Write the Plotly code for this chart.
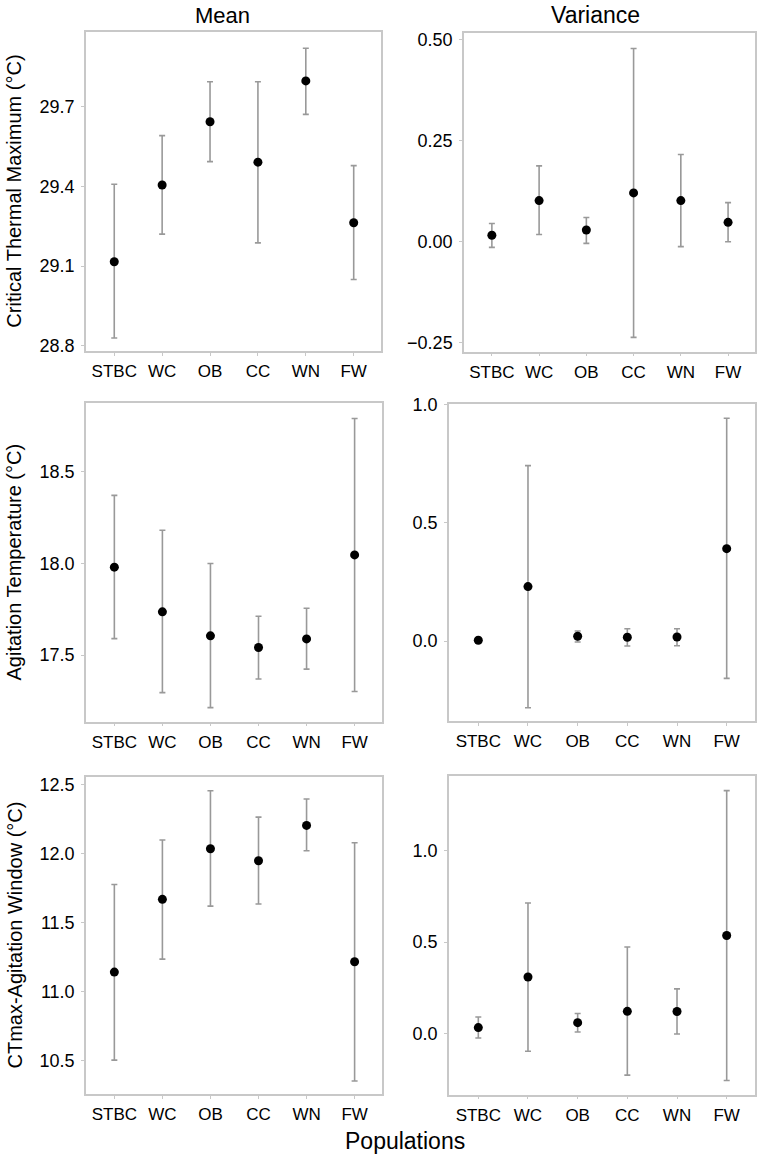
import plotly.graph_objects as go

populations = ["STBC", "WC", "OB", "CC", "WN", "FW"]

# Critical Thermal Maximum - mean
ctmax_mean = [29.116, 29.405, 29.643, 29.491, 29.797, 29.263]
ctmax_mean_lo = [28.829, 29.220, 29.493, 29.187, 29.671, 29.049]
ctmax_mean_hi = [29.408, 29.591, 29.794, 29.794, 29.920, 29.478]
# Critical Thermal Maximum - variance
ctmax_var = [0.016, 0.102, 0.029, 0.121, 0.102, 0.048]
ctmax_var_lo = [-0.014, 0.018, -0.004, -0.237, -0.012, 0.000]
ctmax_var_hi = [0.045, 0.188, 0.060, 0.479, 0.216, 0.097]

# Agitation Temperature - mean
agit_mean = [17.980, 17.736, 17.605, 17.541, 17.588, 18.047]
agit_mean_lo = [17.590, 17.295, 17.213, 17.369, 17.423, 17.301]
agit_mean_hi = [18.372, 18.182, 18.000, 17.712, 17.756, 18.792]
# Agitation Temperature - variance
agit_var = [0.003, 0.230, 0.020, 0.016, 0.017, 0.390]
agit_var_lo = [0.003, -0.282, -0.004, -0.021, -0.020, -0.158]
agit_var_hi = [0.003, 0.741, 0.042, 0.052, 0.052, 0.941]

# CTmax-Agitation Window - mean
win_mean = [11.140, 11.667, 12.034, 11.947, 12.203, 11.215]
win_mean_lo = [10.502, 11.234, 11.618, 11.633, 12.019, 10.350]
win_mean_hi = [11.775, 12.097, 12.454, 12.263, 12.394, 12.077]
# CTmax-Agitation Window - variance
win_var = [0.031, 0.308, 0.058, 0.120, 0.119, 0.536]
win_var_lo = [-0.026, -0.099, 0.007, -0.230, -0.004, -0.259]
win_var_hi = [0.089, 0.714, 0.108, 0.473, 0.243, 1.330]

col_titles = ["Mean", "Variance"]
row_titles = ["Critical Thermal Maximum (°C)", "Agitation Temperature (°C)",
              "CTmax-Agitation Window (°C)"]
x_title = "Populations"

W, H = 760, 1159
FONT = "Liberation Sans, Arial, sans-serif"
AXIS_COLOR = "#c8c8c8"
ERR_COLOR = "#999999"

panels = [
    (ctmax_mean, ctmax_mean_lo, ctmax_mean_hi, (86, 381), (32.3, 351),
     (28.78, 29.98), [28.8, 29.1, 29.4, 29.7], ["28.8", "29.1", "29.4", "29.7"]),
    (ctmax_var, ctmax_var_lo, ctmax_var_hi, (464, 755), (33.3, 351.5),
     (-0.272, 0.5165), [-0.25, 0.0, 0.25, 0.5], ["\u22120.25", "0.00", "0.25", "0.50"]),
    (agit_mean, agit_mean_lo, agit_mean_hi, (86, 382), (403.3, 721.7),
     (17.136, 18.875), [17.5, 18.0, 18.5], ["17.5", "18.0", "18.5"]),
    (agit_var, agit_var_lo, agit_var_hi, (449, 755), (404.3, 721),
     (-0.338, 1.0), [0.0, 0.5, 1.0], ["0.0", "0.5", "1.0"]),
    (win_mean, win_mean_lo, win_mean_hi, (86, 382), (776.7, 1094.3),
     (10.254, 12.556), [10.5, 11.0, 11.5, 12.0, 12.5], ["10.5", "11.0", "11.5", "12.0", "12.5"]),
    (win_var, win_var_lo, win_var_hi, (449, 755), (775.7, 1094.5),
     (-0.336, 1.412), [0.0, 0.5, 1.0], ["0.0", "0.5", "1.0"]),
]

fig = go.Figure()
layout = {}
for i, (m, lo, hi, xr, yr, yrange, tv, tt) in enumerate(panels, start=1):
    xa = "x" if i == 1 else f"x{i}"
    ya = "y" if i == 1 else f"y{i}"
    plus = [h - v for h, v in zip(hi, m)]
    minus = [v - l for v, l in zip(m, lo)]
    fig.add_trace(go.Scatter(
        x=populations, y=m, mode="markers", xaxis=xa, yaxis=ya,
        marker=dict(color="black", size=9),
        error_y=dict(type="data", symmetric=False, array=plus, arrayminus=minus,
                     color=ERR_COLOR, thickness=1.6, width=3),
        showlegend=False, cliponaxis=False,
    ))
    xkey = "xaxis" if i == 1 else f"xaxis{i}"
    ykey = "yaxis" if i == 1 else f"yaxis{i}"
    layout[xkey] = dict(
        domain=[xr[0] / W, xr[1] / W], anchor=ya, automargin=False,
        type="category", categoryorder="array", categoryarray=populations,
        range=[-0.59, 5.57],
        showline=True, linecolor=AXIS_COLOR, linewidth=1.5, mirror=True,
        showgrid=False, zeroline=False,
        ticks="outside", ticklen=3, tickcolor=AXIS_COLOR, tickwidth=1,
        ticklabelstandoff=1,
        tickfont=dict(family=FONT, size=17, color="black"),
    )
    layout[ykey] = dict(
        domain=[1 - yr[1] / H, 1 - yr[0] / H], anchor=xa, automargin=False,
        range=list(yrange), tickvals=tv, ticktext=tt,
        showline=True, linecolor=AXIS_COLOR, linewidth=1.5, mirror=True,
        showgrid=False, zeroline=False,
        ticks="outside", ticklen=3, tickcolor=AXIS_COLOR, tickwidth=1,
        ticklabelstandoff=3,
        tickfont=dict(family=FONT, size=18, color="black"),
    )

annotations = [
    dict(text=col_titles[0], x=222 / W, y=1 - 15 / H, xref="paper", yref="paper",
         xanchor="center", yanchor="middle", showarrow=False,
         font=dict(family=FONT, size=22, color="black")),
    dict(text=col_titles[1], x=595 / W, y=1 - 15 / H, xref="paper", yref="paper",
         xanchor="center", yanchor="middle", showarrow=False,
         font=dict(family=FONT, size=23, color="black")),
    dict(text=x_title, x=405 / W, y=1 - 1141 / H, xref="paper", yref="paper",
         xanchor="center", yanchor="middle", showarrow=False,
         font=dict(family=FONT, size=23, color="black")),
]
row_centers = [(32.3 + 351) / 2, (403.3 + 721.7) / 2, (776.7 + 1094.3) / 2]
for t, yc in zip(row_titles, row_centers):
    annotations.append(dict(text=t, x=14 / W, y=1 - yc / H, xref="paper", yref="paper",
                            xanchor="center", yanchor="middle",
                            showarrow=False, textangle=-90,
                            font=dict(family=FONT, size=20, color="black")))

fig.update_layout(
    width=W, height=H,
    margin=dict(l=0, r=0, t=0, b=0, autoexpand=False),
    paper_bgcolor="white", plot_bgcolor="white",
    annotations=annotations,
    **layout,
)

fig.write_html("out.html", config={"displayModeBar": False},
               post_script="document.body.style.margin='0px';document.body.style.overflow='hidden';")
